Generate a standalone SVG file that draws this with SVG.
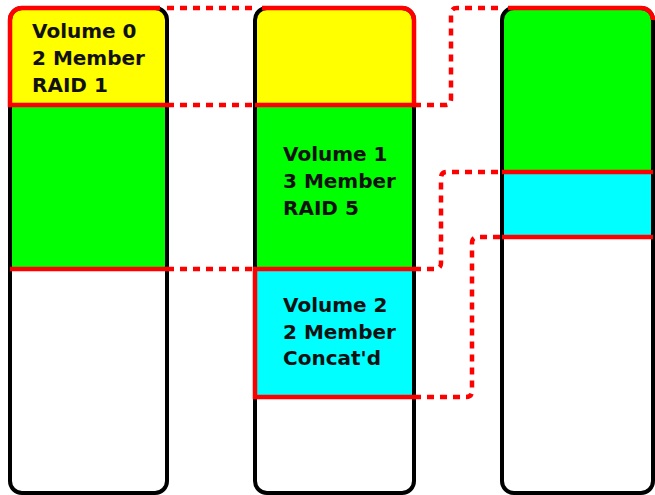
<svg xmlns="http://www.w3.org/2000/svg" width="655" height="495" viewBox="0 0 655 495">
<style>
.disk{fill:none;stroke:#000;stroke-width:4}
.vol{fill:none;stroke:#f00;stroke-width:4.5}
.conn{fill:none;stroke:#f00;stroke-width:4.5;stroke-dasharray:7 6}
.lbl{font-family:"DejaVu Sans",Verdana,sans-serif;font-weight:bold;font-size:20px;fill:#111}
.y{fill:#ff0}.g{fill:#0f0}.c{fill:#0ff}
</style>
<rect width="655" height="495" fill="#fff"/>
<g id="disk1">
<path class="y" d="M10,105 V20 A12,12 0 0 1 22,8 H155 A12,12 0 0 1 167,20 V105 Z"/>
<rect class="g" x="10" y="105" width="157" height="164"/>
<rect class="disk" x="10" y="8" width="157" height="485" rx="12"/>
<path class="vol" d="M167,105 H10 V20 A12,12 0 0 1 22,8 H160"/>
<path class="vol" d="M10,269 H167"/>
<text class="lbl" x="32" y="38">Volume 0</text>
<text class="lbl" x="32" y="65">2 Member</text>
<text class="lbl" x="32" y="92">RAID 1</text>
</g>
<g id="disk2">
<path class="y" d="M255,105 V20 A12,12 0 0 1 267,8 H402 A12,12 0 0 1 414,20 V105 Z"/>
<rect class="g" x="255" y="105" width="159" height="164"/>
<rect class="c" x="255" y="269" width="159" height="128"/>
<rect class="disk" x="255" y="8" width="159" height="485" rx="12"/>
<path class="vol" d="M262,8 H402 A12,12 0 0 1 414,20 V105 H255"/>
<path class="vol" d="M414,269 H255 V397 H414"/>
<text class="lbl" x="283" y="161">Volume 1</text>
<text class="lbl" x="283" y="188">3 Member</text>
<text class="lbl" x="283" y="215">RAID 5</text>
<text class="lbl" x="283" y="312">Volume 2</text>
<text class="lbl" x="283" y="339">2 Member</text>
<text class="lbl" x="283" y="365">Concat'd</text>
</g>
<g id="disk3">
<path class="g" d="M502,172 V20 A12,12 0 0 1 514,8 H641 A12,12 0 0 1 653,20 V172 Z"/>
<rect class="c" x="502" y="172" width="151" height="65"/>
<rect class="disk" x="502" y="8" width="151" height="485" rx="12"/>
<path class="vol" d="M508,8 H641 A12,12 0 0 1 653,20"/>
<path class="vol" d="M502,172 H653 M502,237 H653"/>
</g>
<g id="connectors">
<path class="conn" d="M167,8 H255"/>
<path class="conn" d="M167,105 H255"/>
<path class="conn" d="M167,269 H255"/>
<path class="conn" d="M414,105 H445 Q451,105 451,99 V14 Q451,8 457,8 H502"/>
<path class="conn" d="M414,269 H435 Q441,269 441,263 V178 Q441,172 447,172 H502"/>
<path class="conn" d="M414,397 H466 Q472,397 472,391 V243 Q472,237 478,237 H502"/>
</g>
</svg>
